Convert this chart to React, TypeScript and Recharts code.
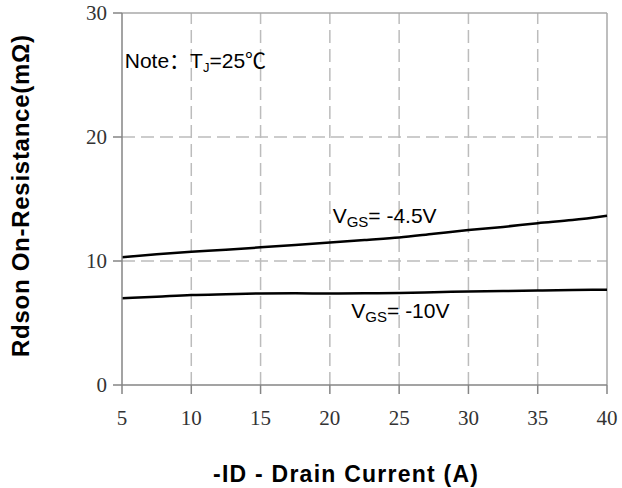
import { LineChart, Line, XAxis, YAxis, ReferenceLine, ReferenceDot, Label } from "recharts";

// -ID drain current (A)
const current = [5, 7.5, 10, 12.5, 15, 17.5, 20, 22.5, 25, 27.5, 30, 32.5, 35, 37.5, 40];
// Rdson (mΩ)
const rdsVgs45 = [10.3, 10.55, 10.75, 10.9, 11.1, 11.3, 11.5, 11.7, 11.9, 12.2, 12.5, 12.75, 13.05, 13.3, 13.65];
const rdsVgs10 = [7.0, 7.12, 7.25, 7.32, 7.38, 7.4, 7.37, 7.39, 7.42, 7.48, 7.54, 7.58, 7.62, 7.66, 7.69];

const xTicks = [5, 10, 15, 20, 25, 30, 35, 40];
const yTicks = [0, 10, 20, 30];
const xGrid = [10, 15, 20, 25, 30, 35];
const yGrid = [10, 20];

const rows = current.map((id, i) => ({ id, v45: rdsVgs45[i], v10: rdsVgs10[i] }));

const SANS = "'Liberation Sans', Arial, 'Noto Sans CJK SC', sans-serif";
const SERIF = "'Liberation Serif', 'DejaVu Serif', serif";
const AXIS = "#858585";
const GRID = "#bcbcbc";

const tick = { fill: "#333", fontSize: 21, fontFamily: SERIF };

const VgsLabel = ({ viewBox, value }: any) => (
  <text x={viewBox.x} y={viewBox.y} fontFamily={SANS} fontSize={21} fill="#000">
    <tspan>V</tspan>
    <tspan fontSize={15} dy={4}>GS</tspan>
    <tspan dy={-4}>{value}</tspan>
  </text>
);

const NoteLabel = ({ viewBox }: any) => (
  <text x={viewBox.x} y={viewBox.y} fontFamily={SANS} fontSize={21} fill="#000">
    <tspan>Note：T</tspan>
    <tspan fontSize={13} dy={4}>J</tspan>
    <tspan dy={-4}>=25℃</tspan>
  </text>
);

export default function App() {
  return (
    <div style={{ position: "absolute", left: 0, top: 0, background: "#fff" }}>
      <LineChart width={622} height={488} data={rows} margin={{ top: 13, right: 15, bottom: 0, left: 0 }}>
        <XAxis
          type="number"
          dataKey="id"
          domain={[5, 40]}
          ticks={xTicks}
          tick={tick}
          height={103}
          tickSize={9}
          tickMargin={16}
          axisLine={{ stroke: AXIS, strokeWidth: 1.5 }}
          tickLine={{ stroke: AXIS, strokeWidth: 1.5 }}
        >
          <Label
            content={() => (
              <text
                x={345.5}
                y={482}
                textAnchor="middle"
                fontFamily={SANS}
                fontWeight="bold"
                fontSize={23}
                textLength={265}
                lengthAdjust="spacing"
                fill="#000"
              >
                -ID - Drain Current (A)
              </text>
            )}
          />
        </XAxis>
        <YAxis
          type="number"
          domain={[0, 30]}
          ticks={yTicks}
          tick={tick}
          width={122}
          tickSize={9}
          tickMargin={6}
          axisLine={{ stroke: AXIS, strokeWidth: 1.5 }}
          tickLine={{ stroke: AXIS, strokeWidth: 1.5 }}
        >
          <Label
            content={() => (
              <text
                x={29}
                y={196}
                transform="rotate(-90 29 196)"
                textAnchor="middle"
                fontFamily={SANS}
                fontWeight="bold"
                fontSize={24}
                textLength={322}
                lengthAdjust="spacing"
                fill="#000"
              >
                Rdson On-Resistance(mΩ)
              </text>
            )}
          />
        </YAxis>

        {xGrid.map((x) => (
          <ReferenceLine key={`gx${x}`} x={x} stroke={GRID} strokeWidth={1.5} strokeDasharray="13 6" />
        ))}
        {yGrid.map((y) => (
          <ReferenceLine key={`gy${y}`} y={y} stroke={GRID} strokeWidth={1.5} strokeDasharray="13 6" />
        ))}
        <ReferenceLine y={30} stroke="#a8a8a8" strokeWidth={1.5} />
        <ReferenceLine x={40} stroke="#a8a8a8" strokeWidth={1.5} />

        <Line dataKey="v45" type="monotone" stroke="#000" strokeWidth={2.5} dot={false} isAnimationActive={false} />
        <Line dataKey="v10" type="monotone" stroke="#000" strokeWidth={2.5} dot={false} isAnimationActive={false} />

        <ReferenceDot x={5.2} y={25.6} r={0} stroke="none" label={<NoteLabel />} />
        <ReferenceDot x={20.2} y={13.05} r={0} stroke="none" label={<VgsLabel value="= -4.5V" />} />
        <ReferenceDot x={21.55} y={5.4} r={0} stroke="none" label={<VgsLabel value="= -10V" />} />
      </LineChart>
    </div>
  );
}
